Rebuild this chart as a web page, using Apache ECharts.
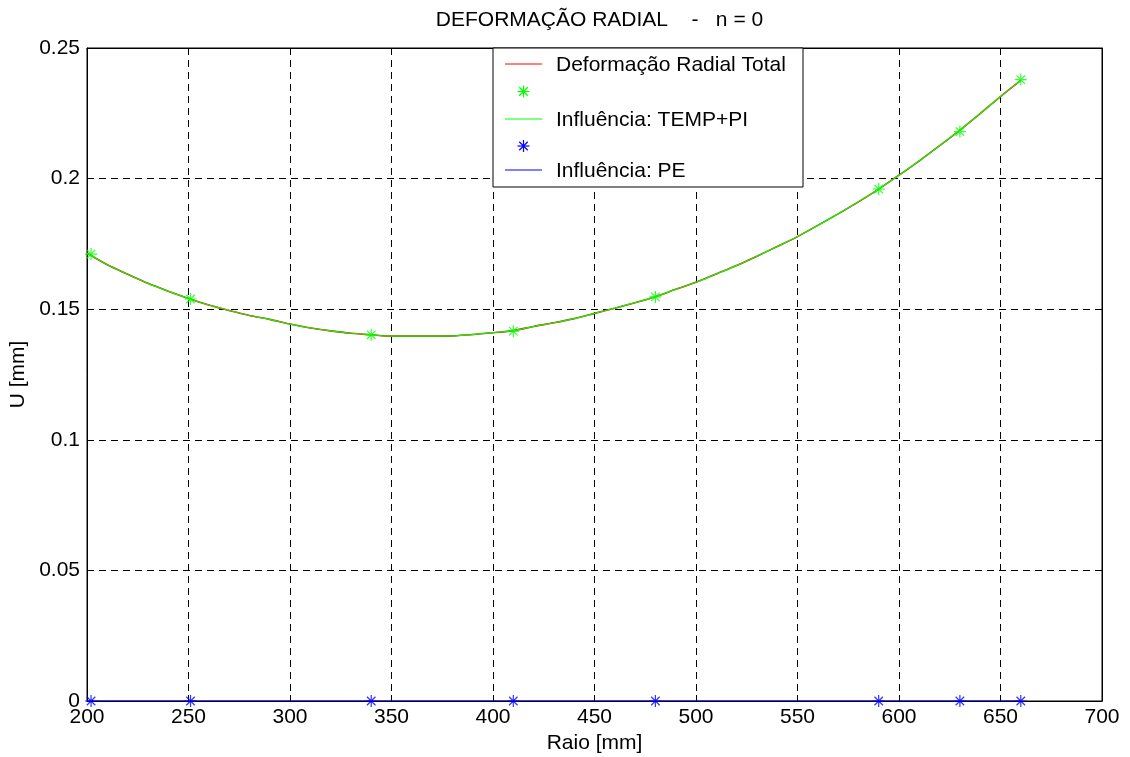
<!DOCTYPE html>
<html>
<head>
<meta charset="utf-8">
<script src="https://cdn.jsdelivr.net/npm/echarts@6/dist/echarts.min.js"></script>
<style>
html,body{margin:0;padding:0;background:#fff;}
#chart{width:1130px;height:757px;}
</style>
</head>
<body>
<div id="chart"></div>
<script>
// ---- data ----
var titleText = 'DEFORMAÇÃO RADIAL    -   n = 0';
var xName = 'Raio [mm]';
var yName = 'U [mm]';
var legendNames = ['Deformação Radial Total', 'Influência: TEMP+PI', 'Influência: PE'];

var radius = [200,210,220,230,240,250,260,270,280,290,300,310,320,330,340,350,360,370,380,390,400,
              410,420,430,440,450,460,470,480,490,500,510,520,530,540,550,560,570,580,590,600,
              610,620,630,640,650,660];
var totalU = [0.1715,0.1670,0.1634,0.1599,0.1569,0.1541,0.1516,0.1495,0.1476,0.1461,0.1443,
              0.1428,0.1417,0.1408,0.1402,0.1397,0.1397,0.1397,0.1398,0.1403,0.1410,
              0.1418,0.1434,0.1448,0.1464,0.1484,0.1504,0.1525,0.1548,0.1576,0.1603,
              0.1635,0.1667,0.1703,0.1740,0.1778,0.1821,0.1865,0.1911,0.1960,0.2013,
              0.2068,0.2126,0.2186,0.2249,0.2314,0.2376];
var tempPiU = [0.1715,0.1670,0.1634,0.1599,0.1569,0.1541,0.1516,0.1495,0.1476,0.1461,0.1443,
               0.1428,0.1417,0.1408,0.1402,0.1397,0.1397,0.1397,0.1398,0.1403,0.1410,
               0.1418,0.1434,0.1448,0.1464,0.1484,0.1504,0.1525,0.1548,0.1576,0.1603,
               0.1635,0.1667,0.1703,0.1740,0.1778,0.1821,0.1865,0.1911,0.1960,0.2013,
               0.2068,0.2126,0.2186,0.2249,0.2314,0.2376];
var peU = [0,0,0,0,0,0,0,0,0,0,0,0,0,0,0,0,0,0,0,0,0,0,0,0,0,0,0,0,0,0,0,0,0,0,0,0,0,0,0,0,0,0,0,0,0,0,0];

var pointR = [202, 251, 340, 410, 480, 590, 630, 660];
var pointTempPi = [0.1711, 0.1539, 0.1402, 0.1416, 0.1547, 0.1960, 0.2180, 0.2379];
var pointPE = [0, 0, 0, 0, 0, 0, 0, 0];

// ---- helpers ----
function pairs(xs, ys){ var o=[]; for(var i=0;i<xs.length;i++) o.push([xs[i], ys[i]]); return o; }
var STAR = 'path://M0,-6L0,6M-6,0L6,0M-4.24,-4.24L4.24,4.24M-4.24,4.24L4.24,-4.24';
var FONT = "'Liberation Sans', Arial, Helvetica, sans-serif";
var FS = 21;
var ZL = 200;

function starGraphic(cx, cy, color){
  var s = 6, d = 4.24, st = {stroke:color, lineWidth:1.2};
  return [
    {type:'line', z:ZL+1, shape:{x1:cx, y1:cy-s, x2:cx, y2:cy+s}, style:st},
    {type:'line', z:ZL+1, shape:{x1:cx-s, y1:cy, x2:cx+s, y2:cy}, style:st},
    {type:'line', z:ZL+1, shape:{x1:cx-d, y1:cy-d, x2:cx+d, y2:cy+d}, style:st},
    {type:'line', z:ZL+1, shape:{x1:cx-d, y1:cy+d, x2:cx+d, y2:cy-d}, style:st}
  ];
}

var chart = echarts.init(document.getElementById('chart'), null, {renderer:'canvas'});

var gridDash = {show:true, lineStyle:{color:'#000', width:1, type:[7,5]}};

var LX = 493, LY = 48;
var legendChildren = [
  {type:'rect', z:ZL, shape:{x:LX, y:LY, width:310, height:139}, style:{fill:'#fff', stroke:'#000', lineWidth:1}},
  {type:'line', z:ZL+1, shape:{x1:LX+12, y1:LY+16, x2:LX+49, y2:LY+16}, style:{stroke:'#ff0000', lineWidth:1}},
  {type:'text', z:ZL+1, x:LX+63, y:LY+17, style:{text:legendNames[0], fontFamily:FONT, fontSize:FS, fill:'#000', verticalAlign:'middle'}},
  {type:'line', z:ZL+1, shape:{x1:LX+12, y1:LY+71, x2:LX+49, y2:LY+71}, style:{stroke:'#00ff00', lineWidth:1}},
  {type:'text', z:ZL+1, x:LX+63, y:LY+72, style:{text:legendNames[1], fontFamily:FONT, fontSize:FS, fill:'#000', verticalAlign:'middle'}},
  {type:'line', z:ZL+1, shape:{x1:LX+12, y1:LY+122, x2:LX+49, y2:LY+122}, style:{stroke:'#0000ff', lineWidth:1}},
  {type:'text', z:ZL+1, x:LX+63, y:LY+123, style:{text:legendNames[2], fontFamily:FONT, fontSize:FS, fill:'#000', verticalAlign:'middle'}}
].concat(starGraphic(LX+30.5, LY+43.5, '#00ff00'))
 .concat(starGraphic(LX+30.5, LY+98, '#0000ff'));

var option = {
  backgroundColor:'#fff',
  animation:false,
  textStyle:{fontFamily:FONT},
  title:{
    text:titleText, left:594.5, top:5, textAlign:'center',
    textStyle:{fontFamily:FONT, fontSize:FS, fontWeight:'normal', color:'#000'}
  },
  grid:{left:87, right:28, top:48, bottom:56, containLabel:false, outerBoundsMode:'none',
        show:true, borderColor:'#000', borderWidth:1, backgroundColor:'#fff'},
  xAxis:[{
    type:'value', min:200, max:700, interval:50, position:'bottom',
    name:xName, nameLocation:'middle', nameGap:29,
    nameTextStyle:{fontFamily:FONT, fontSize:FS, color:'#000'},
    axisLine:{show:true, onZero:false, lineStyle:{color:'#000', width:1}},
    axisTick:{show:true, inside:true, length:6, lineStyle:{color:'#000'}},
    axisLabel:{fontFamily:FONT, fontSize:FS, color:'#000', margin:6},
    splitLine:gridDash
  },{
    type:'value', min:200, max:700, interval:50, position:'top',
    axisLine:{show:true, onZero:false, lineStyle:{color:'#000', width:1}},
    axisTick:{show:true, inside:true, length:6, lineStyle:{color:'#000'}},
    axisLabel:{show:false}, splitLine:{show:false}
  }],
  yAxis:[{
    type:'value', min:0, max:0.25, interval:0.05, position:'left',
    name:yName, nameLocation:'middle', nameGap:47, nameRotate:90,
    nameTextStyle:{fontFamily:FONT, fontSize:FS, color:'#000'},
    axisLine:{show:true, onZero:false, lineStyle:{color:'#000', width:1}},
    axisTick:{show:true, inside:true, length:6, lineStyle:{color:'#000'}},
    axisLabel:{fontFamily:FONT, fontSize:FS, color:'#000', margin:7},
    splitLine:gridDash
  },{
    type:'value', min:0, max:0.25, interval:0.05, position:'right',
    axisLine:{show:true, onZero:false, lineStyle:{color:'#000', width:1}},
    axisTick:{show:true, inside:true, length:6, lineStyle:{color:'#000'}},
    axisLabel:{show:false}, splitLine:{show:false}
  }],
  series:[
    {name:legendNames[0], type:'line', data:pairs(radius,totalU), symbol:'none', smooth:0.3,
     lineStyle:{color:'#ff0000', width:1.6}, z:3},
    {name:'g*', type:'scatter', data:pairs(pointR,pointTempPi), symbol:STAR, symbolSize:12,
     itemStyle:{color:'none', borderColor:'#00ff00', borderWidth:1.2}, z:4},
    {name:legendNames[1], type:'line', data:pairs(radius,tempPiU), symbol:'none', smooth:0.3,
     lineStyle:{color:'#00ff00', width:1.2}, z:5},
    {name:'b*', type:'scatter', data:pairs(pointR,pointPE), symbol:STAR, symbolSize:12,
     itemStyle:{color:'none', borderColor:'#0000ff', borderWidth:1.2}, z:6},
    {name:legendNames[2], type:'line', data:pairs(radius,peU), symbol:'none',
     lineStyle:{color:'#0000ff', width:1.2}, z:7}
  ],
  graphic:{elements:legendChildren}
};
chart.setOption(option);
</script>
</body>
</html>
